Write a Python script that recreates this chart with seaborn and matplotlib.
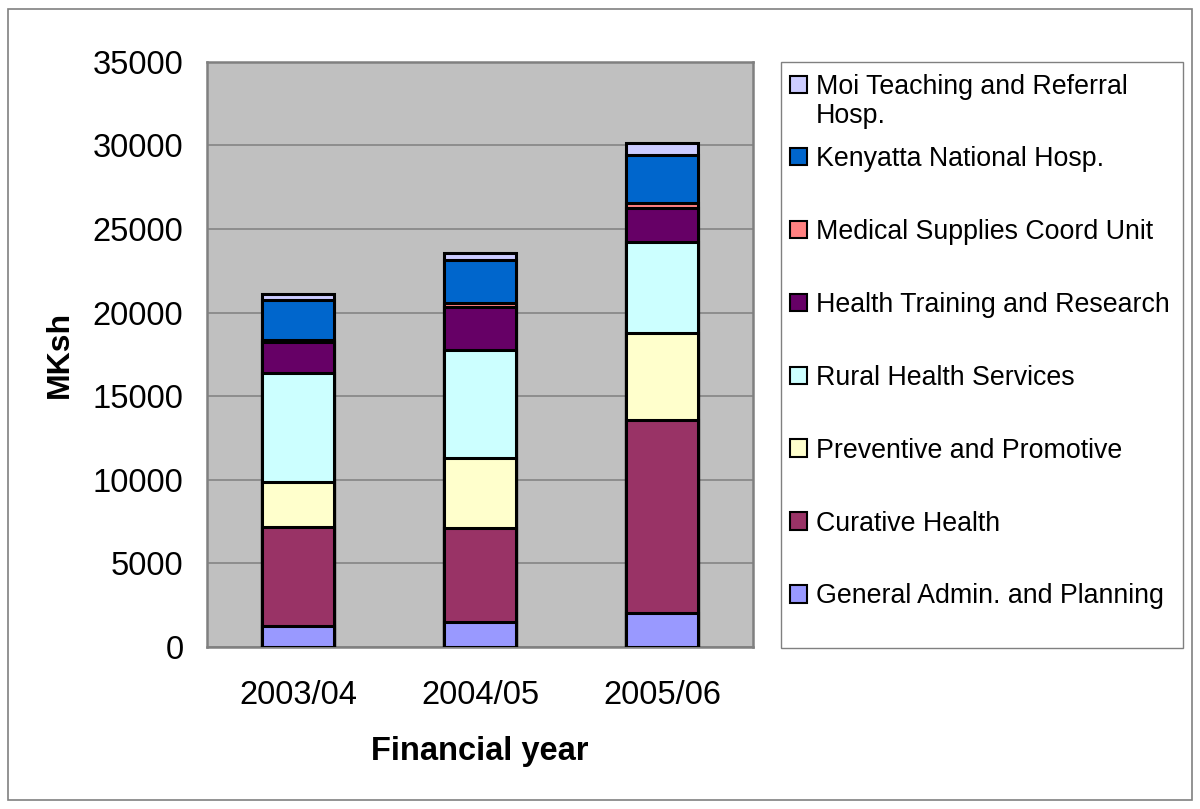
import numpy as np
import pandas as pd
import matplotlib
matplotlib.use("Agg")
import matplotlib.pyplot as plt
from matplotlib.patches import Rectangle, Patch
import seaborn as sns

years = ['2003/04', '2004/05', '2005/06']
programmes = ['General Admin. and Planning', 'Curative Health', 'Preventive and Promotive',
              'Rural Health Services', 'Health Training and Research', 'Medical Supplies Coord Unit',
              'Kenyatta National Hosp.', 'Moi Teaching and Referral Hosp.']
general = [1250, 1480, 2050]
curative = [5900, 5620, 11500]
preventive = [2700, 4200, 5230]
rural = [6560, 6440, 5410]
training = [1820, 2600, 2050]
supplies = [100, 200, 280]
kenyatta = [2400, 2600, 2900]
moi = [400, 440, 700]
colors = ['#9999FF', '#993366', '#FFFFCC', '#CCFFFF', '#660066', '#FF8080', '#0066CC', '#CCCCFF']

values = [general, curative, preventive, rural, training, supplies, kenyatta, moi]
df = pd.DataFrame({'year': years})
cum = np.zeros(len(years))
for name, v in zip(programmes, values):
    cum = cum + np.array(v)
    df[name] = cum

sns.set_style("white")
plt.rcParams['font.family'] = ['Liberation Sans', 'DejaVu Sans']
plt.rcParams['text.color'] = 'black'
plt.rcParams['axes.labelcolor'] = 'black'
plt.rcParams['xtick.color'] = 'black'
plt.rcParams['ytick.color'] = 'black'

fig = plt.figure(figsize=(12, 8.09), dpi=100)
ax = fig.add_axes([0.1725, 0.2002, 0.455, 0.7236])
ax.set_facecolor('#C0C0C0')

# draw tallest first so each lower segment covers the one above
for name, c in reversed(list(zip(programmes, colors))):
    sns.barplot(data=df, x='year', y=name, color=c, width=0.4, edgecolor='black',
                linewidth=2.2, saturation=1, ax=ax, zorder=3)

ax.set_ylim(0, 35000)
ax.set_xlim(-0.5, 2.5)
ax.set_yticks(range(0, 35001, 5000))
ax.yaxis.grid(True, color='#808080', linewidth=1.1, zorder=0)
ax.set_axisbelow(True)
for s in ['top', 'right', 'left', 'bottom']:
    ax.spines[s].set_color('#808080')
    ax.spines[s].set_linewidth(1.8)

ax.tick_params(axis='y', which='major', direction='out', length=7, width=1.2,
               color='#808080', labelsize=23.5, pad=10)
ax.set_xticks([-0.5, 0.5, 1.5, 2.5], minor=True)
ax.tick_params(axis='x', which='major', length=0, labelsize=23.5, pad=24)
ax.tick_params(axis='x', which='minor', direction='out', length=7, width=1.2, color='#808080')
ax.set_ylabel('MKsh', fontsize=23, fontweight='bold', labelpad=13)
ax.set_xlabel('Financial year', fontsize=23.5, fontweight='bold', labelpad=18)

# legend: Moi entry wraps onto two lines, so it gets its own tight block
handles = [Patch(facecolor=c, edgecolor='black', linewidth=1.5) for c in colors]
blank = Patch(facecolor='none', edgecolor='none')
leg_kw = dict(loc='upper left', fontsize=19.3, frameon=False, handlelength=0.63,
              handleheight=0.63, handletextpad=0.33, borderpad=0, borderaxespad=0)
fig.legend([handles[7], blank], ['Moi Teaching and Referral', 'Hosp.'],
           bbox_to_anchor=(790 / 1200, 1 - 74 / 809), labelspacing=0.1, **leg_kw)
fig.legend(handles[6::-1], programmes[6::-1],
           bbox_to_anchor=(790 / 1200, 1 - 146 / 809), labelspacing=1.75, **leg_kw)

fig.patches.append(Rectangle((781 / 1200, 1 - 648 / 809), 402 / 1200, 586 / 809,
                             transform=fig.transFigure, fill=False,
                             edgecolor='#808080', linewidth=1.0))
fig.patches.append(Rectangle((0.007, 0.011), 0.986, 0.978, transform=fig.transFigure,
                             fill=False, edgecolor='#808080', linewidth=1.2))

fig.savefig('out.png', dpi=100)
